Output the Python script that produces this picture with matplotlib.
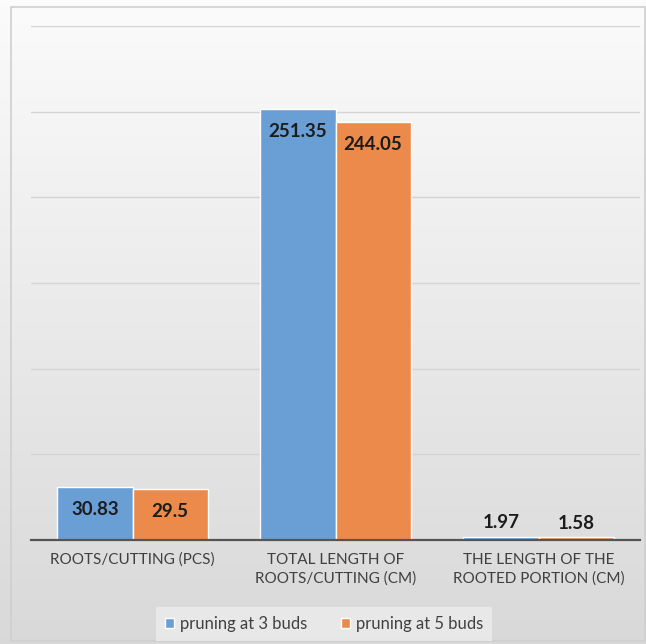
import numpy as np
import matplotlib
matplotlib.use('Agg')
import matplotlib.pyplot as plt
from matplotlib.patches import Rectangle

categories = ['ROOTS/CUTTING (PCS)',
              'TOTAL LENGTH OF\nROOTS/CUTTING (CM)',
              'THE LENGTH OF THE\nROOTED PORTION (CM)']
series_names = ['pruning at 3 buds', 'pruning at 5 buds']
buds3 = [30.83, 251.35, 1.97]
buds5 = [29.5, 244.05, 1.58]
value_labels3 = ['30.83', '251.35', '1.97']
value_labels5 = ['29.5', '244.05', '1.58']

BLUE = '#6a9fd6'
ORANGE = '#ec8a4c'
W, H = 646, 644

plt.rcParams['font.family'] = ['Lato', 'DejaVu Sans']
fig = plt.figure(figsize=(W / 100, H / 100), dpi=100)

# background gradient (white at top -> light grey at bottom)
bg = fig.add_axes([0, 0, 1, 1], zorder=-10)
grad = np.linspace(0.985, 0.85, 256).reshape(-1, 1)
bg.imshow(np.repeat(grad[:, :, None], 3, axis=2), aspect='auto', extent=[0, 1, 0, 1])
bg.set_xlim(0, 1)
bg.set_ylim(0, 1)
bg.add_patch(Rectangle((11 / W, 3 / H), 634 / W, 634 / H, fill=False,
                       edgecolor='#cfcfcf', lw=1.2))
bg.axis('off')

ax = fig.add_axes([31 / W, (H - 540) / H, 609 / W, (540 - 26) / H])
ax.patch.set_alpha(0)
x = np.arange(len(categories))
bw = 0.37
b1 = ax.bar(x - bw / 2, buds3, bw, color=BLUE, edgecolor='white', lw=1.0,
            label=series_names[0], zorder=3)
b2 = ax.bar(x + bw / 2, buds5, bw, color=ORANGE, edgecolor='white', lw=1.0,
            label=series_names[1], zorder=3)

for bars, labels in ((b1, value_labels3), (b2, value_labels5)):
    for rect, lab in zip(bars, labels):
        h = rect.get_height()
        cx = rect.get_x() + rect.get_width() / 2
        dy = -16 if h > 20 else 10
        ax.annotate(lab, (cx, h), xytext=(0, dy), textcoords='offset points',
                    ha='center', va='center', fontsize=13.5, fontweight='bold',
                    color='#1c1c1c', zorder=5)

ax.set_xlim(-0.5, 2.5)
ax.set_ylim(0, 300)
ax.set_yticks(np.arange(0, 301, 50))
ax.yaxis.grid(True, color='#d4d4d4', lw=1.0, zorder=0)
ax.tick_params(axis='y', left=False, labelleft=False)
ax.tick_params(axis='x', length=0, pad=9, labelsize=11, labelcolor='#404040')
ax.set_xticks(x)
ax.set_xticklabels(categories, linespacing=1.45)
for side in ('top', 'right', 'left'):
    ax.spines[side].set_visible(False)
ax.spines['bottom'].set_color('#555555')
ax.spines['bottom'].set_linewidth(1.6)
ax.spines['bottom'].set_zorder(4)

leg = fig.legend(handles=[b1, b2], loc='center', bbox_to_anchor=(324 / W, (H - 624) / H),
                 ncol=2, fontsize=12, frameon=True, fancybox=False, handlelength=0.55,
                 handleheight=0.55, handletextpad=0.35, columnspacing=2.0,
                 borderpad=0.55, borderaxespad=0)
leg.get_frame().set_facecolor('#ececec')
leg.get_frame().set_edgecolor('none')
for t in leg.get_texts():
    t.set_color('#404040')

fig.savefig('out.png', dpi=100)
